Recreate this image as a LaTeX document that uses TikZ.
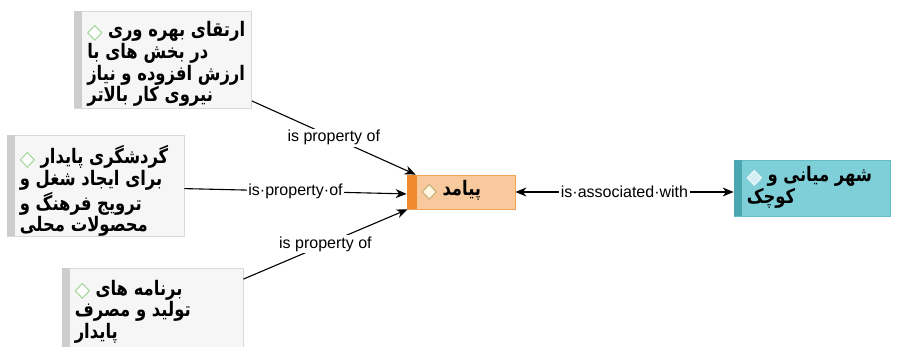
\documentclass[tikz,border=0pt]{standalone}
\usepackage{fontspec}
\setmainfont{Liberation Sans}
\newfontfamily\fa[Script=Arabic]{DejaVu Sans}
\TeXXeTstate=1
\usetikzlibrary{arrows.meta,calc}

\definecolor{boxfill}{HTML}{F6F6F6}
\definecolor{boxline}{HTML}{D9D9D9}
\definecolor{boxbar}{HTML}{CDCDCD}
\definecolor{orfill}{HTML}{F7C99D}
\definecolor{orline}{HTML}{F0A55A}
\definecolor{orbar}{HTML}{EF8A2E}
\definecolor{tlfill}{HTML}{7FCFD9}
\definecolor{tlline}{HTML}{63BCC6}
\definecolor{tlbar}{HTML}{4BA6B2}
\definecolor{dgreen}{HTML}{A9D9A0}
\definecolor{dkhaki}{HTML}{C9B27A}
\definecolor{dcream}{HTML}{FFF6E4}
\definecolor{dwhite}{HTML}{E9F7F9}
\definecolor{dblue}{HTML}{D4EEF4}

% small diamond icon set at the start of a node's first line
% (drawn a little flat, since the text block is stretched upright)
\newcommand\gem[2]{\tikz[baseline=-3.4pt]\draw[draw=#1,fill=#2,line width=1pt]
  (0pt,6pt)--(7pt,0pt)--(0pt,-6pt)--(-7pt,0pt)--cycle;}
% a block of right-to-left lines, stretched to a taller letter shape
\newcommand\fablock[1]{\scalebox{1}[1.22]{\begin{tabular}{@{}l@{}}#1\end{tabular}}}

\tikzset{
  cbox/.style={rectangle, inner sep=0pt, line width=0.8pt},
  greybox/.style={cbox, draw=boxline, fill=boxfill},
  orbox/.style={cbox, draw=orline, fill=orfill},
  tlbox/.style={cbox, draw=tlline, fill=tlfill},
  txt/.style={inner sep=0pt, anchor=north west,
    font=\fa\bfseries\fontsize{16.4}{17.3}\selectfont},
  link/.style={line width=1.1pt, -{Stealth[length=11pt,width=9pt]}},
  dlink/.style={line width=1.1pt, {Stealth[length=11pt,width=9pt]}-{Stealth[length=11pt,width=9pt]}},
  lbl/.style={fill=white, inner sep=1.5pt, font=\fontsize{16}{18}\selectfont}
}

\begin{document}
\begin{tikzpicture}[x=1pt,y=-1pt]
\useasboundingbox (0,0) rectangle (897,347);
\clip (0,0) rectangle (897,347);

% boxes
\node[greybox, minimum width=177pt, minimum height=97pt] (b1) at (163,59.5) {};
\node[greybox, minimum width=177pt, minimum height=101pt] (b2) at (95.5,185.5) {};
\node[greybox, minimum width=181pt, minimum height=92pt] (b3) at (152.5,314) {};
\node[orbox, minimum width=108pt, minimum height=34pt] (c) at (461,192) {};
\node[tlbox, minimum width=156pt, minimum height=56pt] (r) at (812,188) {};

% coloured side bars
\fill[boxbar] (b1.north west) rectangle ([xshift=8pt]b1.south west);
\fill[boxbar] (b2.north west) rectangle ([xshift=8pt]b2.south west);
\fill[boxbar] (b3.north west) rectangle ([xshift=8pt]b3.south west);
\fill[orbar] (c.north west) rectangle ([xshift=10pt]c.south west);
\fill[tlbar] (r.north west) rectangle ([xshift=8pt]r.south west);

% texts
\node[txt] (t1) at ([xshift=13pt,yshift=-11pt]b1.north west)
  {\fablock{\gem{dgreen}{white} \beginR ارتقای بهره وری\endR\\
   \beginR در بخش های با\endR\\
   \beginR ارزش افزوده و نیاز\endR\\
   \beginR نیروی کار بالاتر\endR}};
\node[txt] (t2) at ([xshift=13pt,yshift=-11pt]b2.north west)
  {\fablock{\gem{dgreen}{white} \beginR گردشگری پایدار\endR\\
   \beginR برای ایجاد شغل و\endR\\
   \beginR ترویج فرهنگ و\endR\\
   \beginR محصولات محلی\endR}};
\node[txt] (t3) at ([xshift=13pt,yshift=-12pt]b3.north west)
  {\fablock{\gem{dgreen}{white} \beginR برنامه  های\endR\\
   \beginR تولید و مصرف\endR\\
   \beginR پایدار\endR}};
\node[txt] (tc) at ([xshift=15pt,yshift=-6pt]c.north west)
  {\fablock{\gem{dkhaki}{dcream} \beginR پیامد\endR}};
\node[txt] (tr) at ([xshift=13pt,yshift=-7pt]r.north west)
  {\fablock{\gem{dwhite}{dblue} \beginR شهر میانی و\endR\\
   \beginR کوچک\endR}};

% connectors
\draw[link] (b1.-25) -- node[lbl] (l1) {is property of} (c.159);
\draw[link] (b2.-2) -- node[lbl] (l2) {is·property·of} (c.182);
\draw[link] (b3.21) -- node[lbl] (l3) {is property of} (c.198);
\draw[dlink] (c.east) -- node[lbl] (l4) {is·associated·with} (c.east -| r.west);
\end{tikzpicture}
\end{document}
